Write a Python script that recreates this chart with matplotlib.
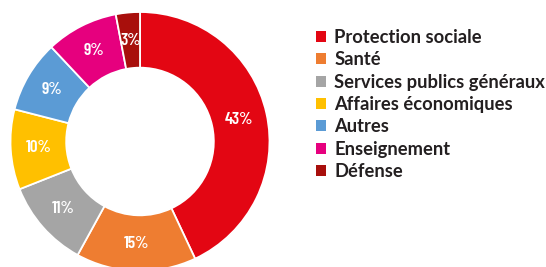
import matplotlib
matplotlib.use("Agg")
import matplotlib.pyplot as plt
from matplotlib.patches import Patch
from matplotlib import font_manager

categories = ["Protection sociale", "Santé", "Services publics généraux",
              "Affaires économiques", "Autres", "Enseignement", "Défense"]
values = [43, 15, 11, 10, 9, 9, 3]
labels = ["43%", "15%", "11%", "10%", "9%", "9%", "3%"]
colors = ["#e30613", "#ee7d31", "#a5a5a5", "#ffc000", "#5b9bd5", "#e6007e", "#a80f0c"]

names = {f.name for f in font_manager.fontManager.ttflist}
cond = next((n for n in ["Barlow Condensed", "Asap Condensed", "Archivo Narrow"] if n in names),
            "DejaVu Sans")

fig = plt.figure(figsize=(5.46, 2.67), dpi=100)
W, H = 546, 267
cx, cy, R = 140, 267 - 141.5, 129.5
ax = fig.add_axes([(cx - R) / W, (cy - R) / H, 2 * R / W, 2 * R / H])
wedges, texts, autotexts = ax.pie(
    values, colors=colors, startangle=90, counterclock=False,
    radius=1.0, autopct=lambda p: "", pctdistance=0.785,
    wedgeprops=dict(width=0.43, edgecolor="white", linewidth=1.3))
for at, lab in zip(autotexts, labels):
    at.set_text(lab)
    at.set_color("white")
    at.set_fontsize(12.5)
    at.set_fontweight(600)
    at.set_fontfamily(cond)
ax.set_xlim(-1, 1)
ax.set_ylim(-1, 1)
ax.set_aspect("equal")
ax.axis("off")

handles = [Patch(facecolor=c, edgecolor="none") for c in colors]
leg = fig.legend(handles, categories, loc="upper left",
                 bbox_to_anchor=(316 / W, 1 - 29 / H), frameon=False,
                 prop=dict(family="Lato", weight="bold", size=13.2),
                 handlelength=0.55, handleheight=0.55, handletextpad=0.45,
                 labelspacing=0.29, borderpad=0, borderaxespad=0)
for t in leg.get_texts():
    t.set_color("#231f20")

fig.savefig("out.png", dpi=100)
